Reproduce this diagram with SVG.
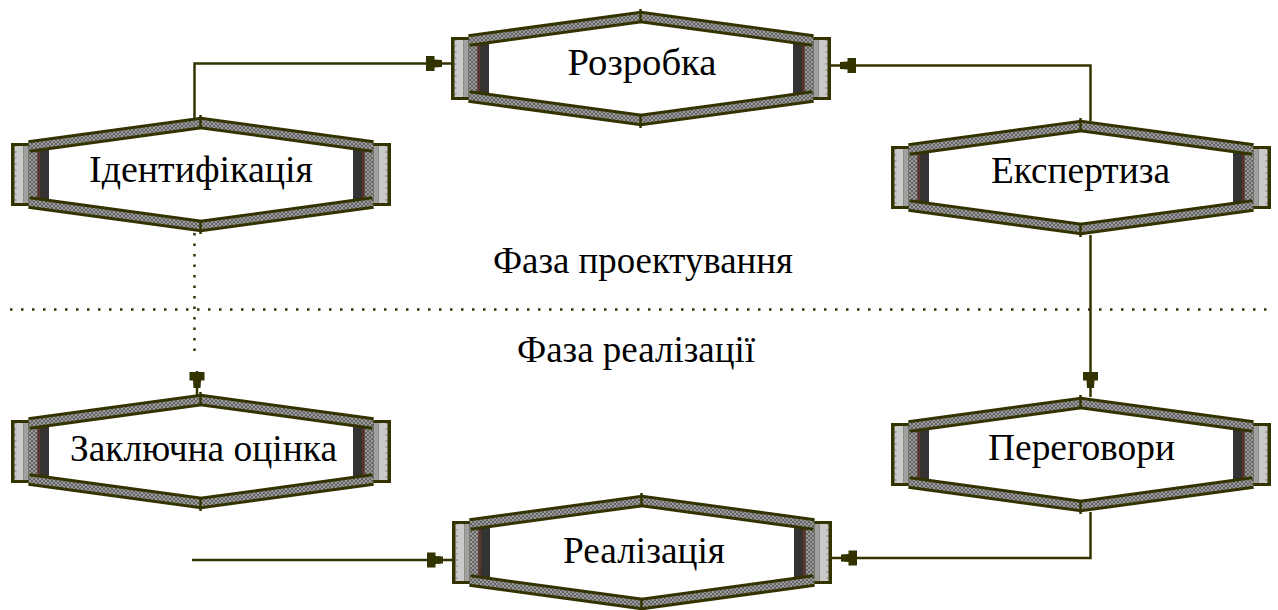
<svg xmlns="http://www.w3.org/2000/svg" xmlns:xlink="http://www.w3.org/1999/xlink" width="1278" height="610" viewBox="0 0 1278 610">
<defs>
<style>
.bo{fill:none;stroke:#333300;stroke-width:12.5;stroke-linejoin:miter}
.bi{fill:none;stroke:url(#chk);stroke-width:6.5;stroke-linejoin:miter}
.lbl{font-family:"Liberation Serif","Times New Roman",serif;font-size:38px;fill:#000;text-anchor:middle}
.con{fill:none;stroke:#333300;stroke-width:2.5}
.dot{fill:none;stroke:#333300;stroke-width:2.5}
</style>
<pattern id="chk" width="4" height="4" patternUnits="userSpaceOnUse">
<rect width="4" height="4" fill="#9c9c9c"/>
<rect width="2" height="2" fill="#646464"/>
<rect x="2" y="2" width="2" height="2" fill="#646464"/>
</pattern>
<pattern id="dots" width="9" height="6" patternUnits="userSpaceOnUse">
<rect width="9" height="6" fill="#cacaca"/>
<rect x="3.5" y="2" width="2" height="2" fill="#a0a0a0"/>
</pattern>
<marker id="arr" markerUnits="userSpaceOnUse" markerWidth="40" markerHeight="40" refX="0" refY="0" orient="auto" overflow="visible">
<path d="M-25,-7.5 L-16.5,-7.5 L-16.5,-4 L-9,-3.5 L-9,3.5 L-16.5,4 L-16.5,7.5 L-25,7.5 Z" fill="#333300"/>
</marker>
<g id="cap">
<rect x="0" y="0" width="38" height="63" fill="#333300"/>
<rect x="3.5" y="3" width="9" height="57" fill="url(#dots)"/>
<rect x="12.5" y="3" width="5" height="57" fill="#a0a0a0"/>
<rect x="17.5" y="3" width="9" height="57" fill="url(#chk)"/>
<rect x="26.5" y="3" width="3" height="57" fill="#5c3434"/>
<rect x="29.5" y="3" width="8.5" height="57" fill="#333333"/>
</g>
<g id="body">
<polygon points="22,4 190,-18 358,4 358,59 190,81 22,59" fill="#fff"/>
<use xlink:href="#cap" href="#cap"/>
<use xlink:href="#cap" href="#cap" transform="translate(380,0) scale(-1,1)"/>
<path d="M18,3.5 L190,-20 L362,3.5" class="bo"/>
<path d="M18,3.5 L190,-20 L362,3.5" class="bi"/>
<path d="M18,59.5 L190,83 L362,59.5" class="bo"/>
<path d="M18,59.5 L190,83 L362,59.5" class="bi"/>
<path d="M189.5,-28 V-14 M189.5,77 V91" stroke="#333300" stroke-width="2.5" fill="none"/>
</g>
</defs>
<rect width="1278" height="610" fill="#fff"/>

<g id="connectors">
<path class="con" d="M194.5,118 V63.5 H451" marker-end="url(#arr)"/>
<path class="con" d="M1090.5,121 V65.5 H831" marker-end="url(#arr)"/>
<path class="con" d="M1090.5,235 V397" marker-end="url(#arr)"/>
<path class="dot" d="M194.5,233 V352" stroke-dasharray="2.5 8"/>
<path class="con" d="M197,371 V397" marker-end="url(#arr)"/>
<path class="con" d="M1090.5,512 V558 H832" marker-end="url(#arr)"/>
<path class="con" d="M192,560 H452" marker-end="url(#arr)"/>
</g>

<g id="phase-divider">
<path class="dot" d="M10,309.5 H1270" stroke-dasharray="2.5 8.5"/>
<text class="lbl" x="643" y="273" textLength="300" lengthAdjust="spacingAndGlyphs">Фаза проектування</text>
<text class="lbl" x="636" y="362" textLength="238" lengthAdjust="spacingAndGlyphs">Фаза реалізації</text>
</g>

<g id="n-rozrobka">
<use xlink:href="#body" href="#body" x="451" y="37"/>
<text class="lbl" x="642" y="75" textLength="149" lengthAdjust="spacingAndGlyphs">Розробка</text>
</g>
<g id="n-identyfikatsiia">
<use xlink:href="#body" href="#body" x="11" y="143"/>
<text class="lbl" x="201" y="182" textLength="224" lengthAdjust="spacingAndGlyphs">Ідентифікація</text>
</g>
<g id="n-ekspertyza">
<use xlink:href="#body" href="#body" x="891" y="146"/>
<text class="lbl" x="1080.5" y="183" textLength="179" lengthAdjust="spacingAndGlyphs">Експертиза</text>
</g>
<g id="n-zakliuchna">
<use xlink:href="#body" href="#body" x="11" y="420"/>
<text class="lbl" x="203.5" y="461" textLength="267" lengthAdjust="spacingAndGlyphs">Заключна оцінка</text>
</g>
<g id="n-perehovory">
<use xlink:href="#body" href="#body" x="891" y="423"/>
<text class="lbl" x="1081.5" y="460" textLength="187" lengthAdjust="spacingAndGlyphs">Переговори</text>
</g>
<g id="n-realizatsiia">
<use xlink:href="#body" href="#body" x="452" y="521"/>
<text class="lbl" x="644" y="563" textLength="162" lengthAdjust="spacingAndGlyphs">Реалізація</text>
</g>
</svg>
